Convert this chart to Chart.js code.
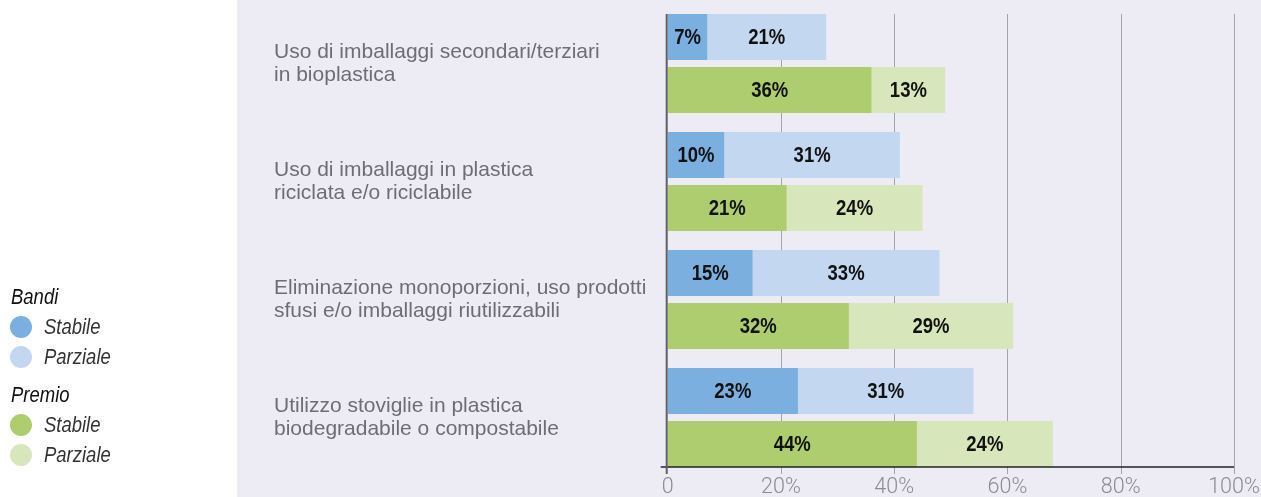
<!DOCTYPE html>
<html>
<head>
<meta charset="utf-8">
<script src="https://cdn.jsdelivr.net/npm/chart.js@4/dist/chart.umd.min.js"></script>
<style>
  html, body { margin: 0; padding: 0; background: #ffffff; }
  #wrap { position: relative; width: 1261px; height: 497px; overflow: hidden; }
  #panel { position: absolute; left: 237px; top: 0; width: 1024px; height: 497px; background: #edecf5; }
  canvas { position: absolute; left: 0; top: 0; }
  .legend { position: absolute; left: 0; top: 0; font-family: 'Liberation Sans', Arial, sans-serif; font-style: italic; font-size: 22px; }
  .lg-title { position: absolute; left: 11px; height: 30px; line-height: 30px; color: #111; transform: scaleX(0.84); transform-origin: left center; }
  .lg-item { position: absolute; left: 10px; height: 30px; display: flex; align-items: center; color: #333; }
  .lg-item .dot { width: 22px; height: 22px; border-radius: 50%; margin-right: 12px; flex: none; }
  .lg-item .txt { display: inline-block; transform: scaleX(0.84); transform-origin: left center; white-space: nowrap; }
</style>
</head>
<body>
<div id="wrap">
  <div id="panel"></div>
  <canvas id="c" width="1261" height="497"></canvas>
  <div class="legend">
    <div class="lg-title" style="top:282px">Bandi</div>
    <div class="lg-item" style="top:312px"><span class="dot" style="background:#7aafdf"></span><span class="txt">Stabile</span></div>
    <div class="lg-item" style="top:342px"><span class="dot" style="background:#c3d7f1"></span><span class="txt">Parziale</span></div>
    <div class="lg-title" style="top:380px">Premio</div>
    <div class="lg-item" style="top:410px"><span class="dot" style="background:#adcd6e"></span><span class="txt">Stabile</span></div>
    <div class="lg-item" style="top:440px"><span class="dot" style="background:#d8e6bc"></span><span class="txt">Parziale</span></div>
  </div>
</div>
<script>
const categories = [
  ["Uso di imballaggi secondari/terziari", "in bioplastica"],
  ["Uso di imballaggi in plastica", "riciclata e/o riciclabile"],
  ["Eliminazione monoporzioni, uso prodotti", "sfusi e/o imballaggi riutilizzabili"],
  ["Utilizzo stoviglie in plastica", "biodegradabile o compostabile"]
];
const bandiStabile   = [7, 10, 15, 23];
const bandiParziale  = [21, 31, 33, 31];
const premioStabile  = [36, 21, 32, 44];
const premioParziale = [13, 24, 29, 24];
const xTickValues = [0, 20, 40, 60, 80, 100];

const REGULAR = "'Liberation Sans', Arial, sans-serif";

const barLabels = {
  id: 'barLabels',
  afterDatasetsDraw(chart) {
    const ctx = chart.ctx;
    const sx = 0.86;
    ctx.save();
    ctx.font = "bold 21.5px " + REGULAR;
    ctx.fillStyle = '#111';
    ctx.textAlign = 'center';
    ctx.textBaseline = 'middle';
    chart.data.datasets.forEach((ds, i) => {
      chart.getDatasetMeta(i).data.forEach((el, j) => {
        const v = ds.data[j];
        const cx = (el.x + el.base) / 2;
        ctx.save();
        ctx.translate(cx, el.y + 1);
        ctx.scale(sx, 1);
        ctx.fillText(v + '%', 0, 0);
        ctx.restore();
      });
    });
    ctx.restore();
  }
};

function barExtent(chart) {
  const first = chart.getDatasetMeta(0).data[0];
  const lastMeta = chart.getDatasetMeta(2).data;
  const last = lastMeta[lastMeta.length - 1];
  return { top: first.y - first.height / 2, bottom: last.y + last.height / 2 };
}

const gridPlugin = {
  id: 'gridPlugin',
  beforeDatasetsDraw(chart) {
    const ctx = chart.ctx;
    const xs = chart.scales.x;
    const ext = barExtent(chart);
    ctx.save();
    ctx.strokeStyle = '#a3a3a8';
    ctx.lineWidth = 1;
    xTickValues.forEach(v => {
      if (v === 0) return;
      const x = Math.round(xs.getPixelForValue(v)) + 0.5;
      ctx.beginPath();
      ctx.moveTo(x, ext.top);
      ctx.lineTo(x, ext.bottom + 7);
      ctx.stroke();
    });
    ctx.restore();
  },
  afterDatasetsDraw(chart) {
    const ctx = chart.ctx;
    const xs = chart.scales.x;
    const ext = barExtent(chart);
    const x0 = xs.getPixelForValue(0);
    ctx.save();
    ctx.strokeStyle = '#222';
    ctx.lineWidth = 1.5;
    ctx.beginPath();
    ctx.moveTo(x0 - 7, ext.bottom);
    ctx.lineTo(xs.getPixelForValue(100), ext.bottom);
    ctx.stroke();
    ctx.strokeStyle = '#5f5f66';
    ctx.lineWidth = 2;
    ctx.beginPath();
    ctx.moveTo(x0 - 1, ext.top);
    ctx.lineTo(x0 - 1, ext.bottom + 7);
    ctx.stroke();
    ctx.restore();
  }
};

const common = { categoryPercentage: 0.898, barPercentage: 0.868, borderWidth: 0 };

new Chart(document.getElementById('c'), {
  type: 'bar',
  data: {
    labels: categories,
    datasets: [
      Object.assign({ label: 'Bandi Stabile', data: bandiStabile, stack: 'bandi', backgroundColor: '#7aafdf' }, common),
      Object.assign({ label: 'Bandi Parziale', data: bandiParziale, stack: 'bandi', backgroundColor: '#c3d7f1' }, common),
      Object.assign({ label: 'Premio Stabile', data: premioStabile, stack: 'premio', backgroundColor: '#adcd6e' }, common),
      Object.assign({ label: 'Premio Parziale', data: premioParziale, stack: 'premio', backgroundColor: '#d8e6bc' }, common)
    ]
  },
  options: {
    indexAxis: 'y',
    responsive: false,
    animation: false,
    layout: { padding: { left: 274, right: 27, top: 4.5, bottom: 0 } },
    plugins: { legend: { display: false }, tooltip: { enabled: false } },
    scales: {
      x: {
        stacked: true, min: 0, max: 100,
        afterBuildTicks(s) { s.ticks = xTickValues.map(v => ({ value: v })); },
        grid: { display: false, drawTicks: false },
        border: { display: false },
        ticks: {
          callback: v => v === 0 ? '0' : v + '%',
          color: '#8b8b90',
          font: { family: "Roboto, 'Liberation Sans', sans-serif", size: 21.5, weight: '300', lineHeight: 1 },
          padding: 0,
          maxRotation: 0
        },
        afterFit(s) { s.height = 20.5; s.paddingLeft = 0; s.paddingRight = 0; }
      },
      y: {
        stacked: true,
        grid: { display: false, drawTicks: false },
        border: { display: false },
        ticks: {
          crossAlign: 'far',
          color: '#6d6d72',
          font: { family: REGULAR, size: 21, lineHeight: '23px' },
          padding: 0
        },
        afterFit(s) { s.width = 393.7; s.paddingTop = 0; s.paddingBottom = 0; }
      }
    }
  },
  plugins: [gridPlugin, barLabels]
});
</script>
</body>
</html>
